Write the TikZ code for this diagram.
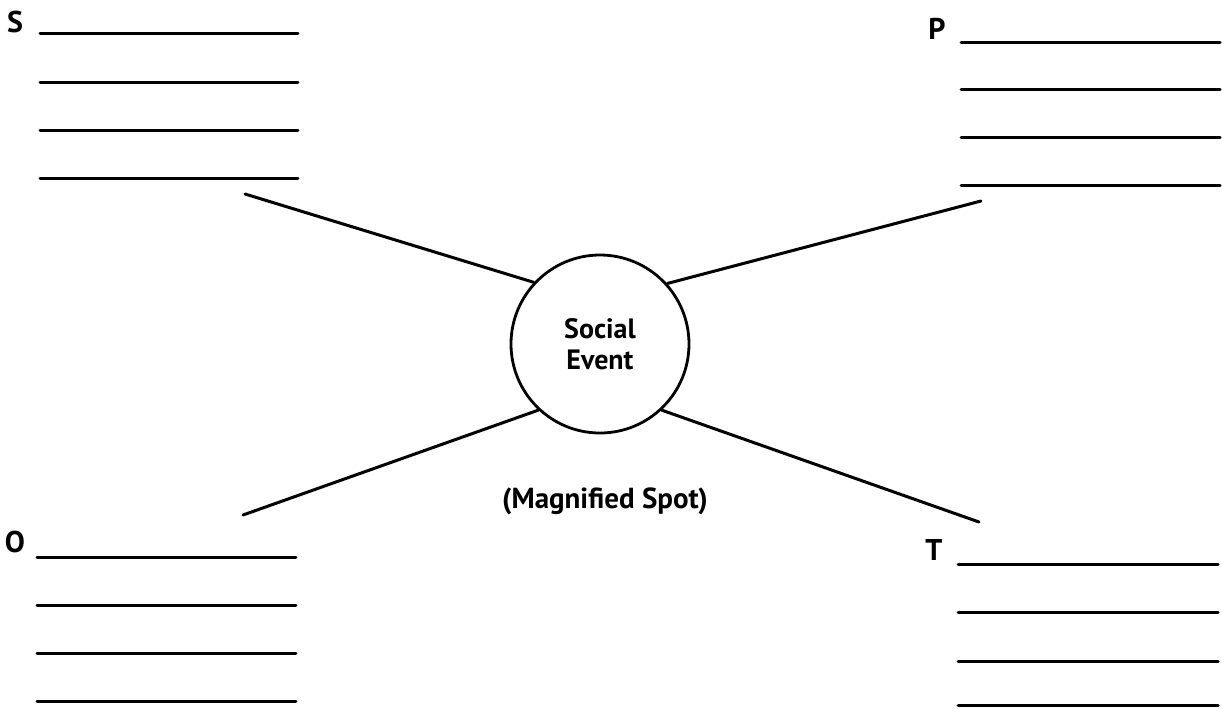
\documentclass[tikz,border=0pt]{standalone}
\usepackage{fontspec}
\setmainfont{PT Sans}
\usetikzlibrary{positioning}

\begin{document}
\begin{tikzpicture}[x=0.5pt, y=-0.5pt, line width=1.5pt, line cap=round,
	letter/.style={font=\bfseries\fontsize{15}{15}\selectfont, inner sep=0pt},
	caption/.style={font=\bfseries\fontsize{14}{15.5}\selectfont, inner sep=0pt, align=center}]
	\useasboundingbox (0,0) rectangle (1222,708);
	% lettres et lignes
	\node[letter] (S) at (15,22) {S};
	\node[letter] (P) at (937,29) {P};
	\node[letter] (O) at (15,542) {O};
	\node[letter] (T) at (934,550) {T};
	\foreach \y in {33,82,130,178} \draw (40,\y) -- (298,\y);
	\foreach \y in {42,89,137,185} \draw (961,\y) -- (1220,\y);
	\foreach \y in {557,605,653,701} \draw (37,\y) -- (296,\y);
	\foreach \y in {564,612,661,705} \draw (958,\y) -- (1218,\y);
	% cercle central
	\node[draw, circle, line width=1.4pt, minimum size=89pt, caption] (event) at (600,344) {Social\\Event};
	\node[caption, font=\bfseries\fontsize{14.5}{15.5}\selectfont] (spot) at (605,501) {(Magnified Spot)};
	\coordinate (sEnd) at (245,194);
	\coordinate (pEnd) at (981,201);
	\coordinate (oEnd) at (243,515);
	\coordinate (tEnd) at (979,522);
	\draw (sEnd) -- (event.137);
	\draw (event.42) -- (pEnd);
	\draw (oEnd) -- (event.227);
	\draw (event.313) -- (tEnd);
\end{tikzpicture}
\end{document}
